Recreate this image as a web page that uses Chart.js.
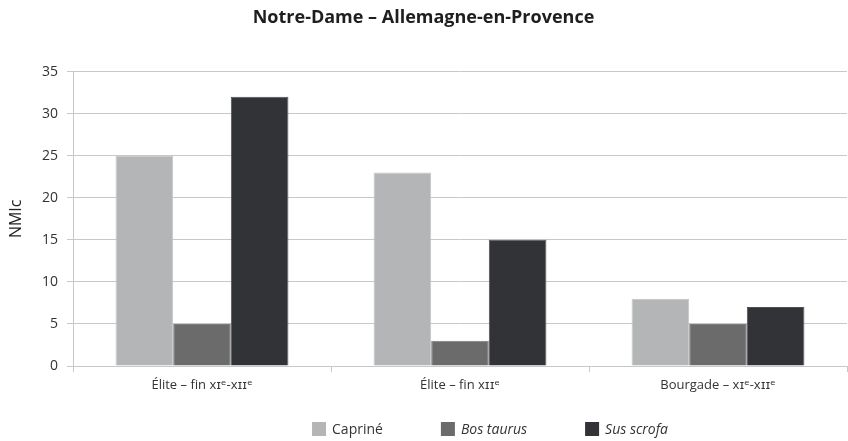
<!DOCTYPE html>
<html lang="fr">
<head>
<meta charset="utf-8">
<title>Notre-Dame – Allemagne-en-Provence</title>
<script src="https://cdn.jsdelivr.net/npm/chart.js@4"></script>
<style>
  html, body { margin: 0; padding: 0; background: #fff; }
  #wrap { width: 848px; height: 441px; position: relative; }
</style>
</head>
<body>
<div id="wrap"><canvas id="nmicChart"></canvas></div>
<script>
// Sites / phases
const phases = ['Élite – fin xɪᵉ-xɪɪᵉ', 'Élite – fin xɪɪᵉ', 'Bourgade – xɪᵉ-xɪɪᵉ'];

// NMIc par taxon
const capriné = [25, 23, 8];
const bosTaurus = [5, 3, 5];
const susScrofa = [32, 15, 7];

const taxons = ['Capriné', 'Bos taurus', 'Sus scrofa'];
const taxonItalique = [false, true, true];
const couleurs = ['#b3b5b6', '#6b6b6b', '#323336'];
const bordures = ['#c4c6c7', '#7c7c7c', '#505155'];

const police = '"Open Sans", "DejaVu Sans", sans-serif';

// Légende dessinée à la main (italique pour les noms latins)
const legendePlugin = {
    id: 'legendeTaxons',
    afterDraw(chart) {
        const ctx = chart.ctx;
        const taille = 14;
        const y = 429;
        ctx.save();
        ctx.textBaseline = 'middle';
        const items = chart.data.datasets.map((ds, i) => {
            ctx.font = (taxonItalique[i] ? 'italic ' : '') + '14px ' + police;
            return { texte: ds.label, font: ctx.font, largeur: ctx.measureText(ds.label).width, couleur: ds.backgroundColor };
        });
        const total = items.reduce((s, it) => s + taille + 6 + it.largeur, 0) + 58 * (items.length - 1);
        let x = 490 - total / 2;
        items.forEach(it => {
            ctx.fillStyle = it.couleur;
            ctx.fillRect(x, y - taille / 2, taille, taille);
            x += taille + 6;
            ctx.font = it.font;
            ctx.fillStyle = '#333';
            ctx.fillText(it.texte, x, y + 1);
            x += it.largeur + 58;
        });
        ctx.restore();
    }
};

const ctx = document.getElementById('nmicChart').getContext('2d');
new Chart(ctx, {
    type: 'bar',
    data: {
        labels: phases,
        datasets: [capriné, bosTaurus, susScrofa].map((valeurs, i) => ({
            label: taxons[i],
            data: valeurs,
            backgroundColor: couleurs[i],
            borderColor: bordures[i],
            borderWidth: 1,
            categoryPercentage: 0.67,
            barPercentage: 1.0
        }))
    },
    options: {
        responsive: true,
        maintainAspectRatio: false,
        animation: false,
        layout: { padding: { top: 0, right: 1, bottom: 0, left: 0 } },
        plugins: {
            legend: { display: false },
            tooltip: { enabled: false },
            title: {
                display: true,
                text: 'Notre-Dame – Allemagne-en-Provence',
                color: '#1e1e1e',
                font: { family: police, size: 18, weight: 'bold' },
                padding: { top: 7, bottom: 43 }
            }
        },
        scales: {
            x: {
                grid: {
                    offset: true,
                    drawOnChartArea: false,
                    color: '#c8c8c8',
                    tickLength: 6
                },
                border: { color: '#c8c8c8' },
                ticks: {
                    color: '#333',
                    padding: 5,
                    maxRotation: 0,
                    font: { family: police, size: 13 }
                },
                afterFit(scale) { scale.height = 75; }
            },
            y: {
                min: 0,
                max: 35,
                ticks: {
                    stepSize: 5,
                    color: '#333',
                    padding: 9,
                    font: { family: police, size: 14 }
                },
                grid: { color: '#c8c8c8', tickLength: 6 },
                border: { color: '#c8c8c8' },
                title: {
                    display: true,
                    text: 'NMIc',
                    color: '#222',
                    font: { family: police, size: 16 },
                    padding: { top: 7, bottom: 4 }
                },
                afterFit(scale) { scale.width = 73; }
            }
        }
    },
    plugins: [legendePlugin]
});
</script>
</body>
</html>
